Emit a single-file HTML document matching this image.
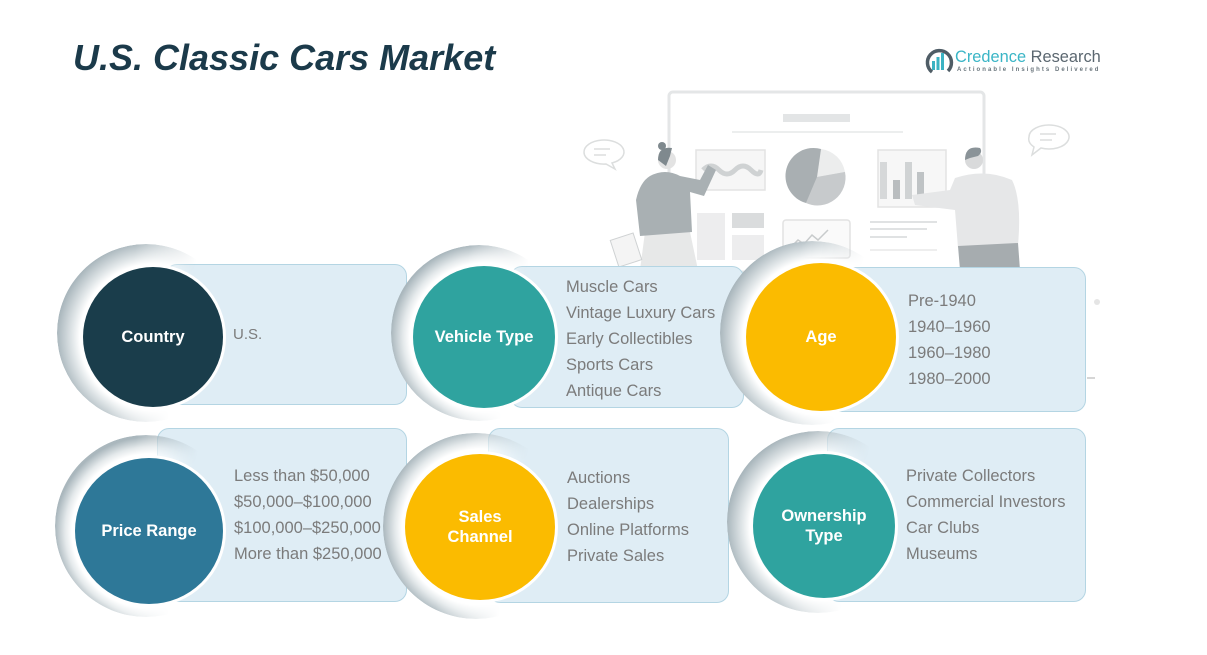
<!DOCTYPE html>
<html><head><meta charset="utf-8"><style>
*{margin:0;padding:0;box-sizing:border-box}
html,body{width:1207px;height:655px;background:#fff;overflow:hidden}
body{position:relative;font-family:"Liberation Sans",sans-serif}
.abs{position:absolute}
.title{left:73px;top:37px;font-size:36px;font-weight:bold;font-style:italic;color:#1b3a4a;white-space:nowrap}
.box{position:absolute;background:#dfedf5;border:1.5px solid #b4d5e3;border-radius:12px}
.cres{position:absolute;border-radius:50%;-webkit-mask-image:linear-gradient(100deg,#000 0%,#000 38%,transparent 68%);mask-image:linear-gradient(100deg,#000 0%,#000 38%,transparent 68%)}
.circ{position:absolute;border-radius:50%;box-shadow:0 0 0 3px #fff;color:#fff;font-weight:bold;font-size:16.5px;display:flex;align-items:center;justify-content:center;text-align:center;line-height:20px}
.txt{position:absolute;color:#7b7b7b;font-size:16.5px;line-height:26px;white-space:nowrap}
</style></head><body>

<svg class="abs" style="left:0;top:0" width="1207" height="655" viewBox="0 0 1207 655">
  <rect x="669" y="92" width="315" height="180" rx="4" fill="none" stroke="#e4e6e7" stroke-width="3"/>
  <rect x="783" y="114" width="67" height="8" fill="#e3e5e6"/>
  <line x1="732" y1="132" x2="903" y2="132" stroke="#e6e8e9" stroke-width="1.5"/>
  <rect x="696" y="150" width="69" height="40" fill="#f6f6f6" stroke="#e3e3e3" stroke-width="1.5"/>
  <path d="M703 170 q8-8 16 0 t16 0 t16 0 t10 0" fill="none" stroke="#cfd2d3" stroke-width="5"/>
  <circle cx="817" cy="177" r="28" fill="#d8dadb"/>
  <path d="M817 177 L821 149 A28 28 0 0 1 845 172 Z" fill="#eceded"/>
  <path d="M817 177 L845 172 A28 28 0 0 1 806 203 Z" fill="#c7cacc"/>
  <path d="M817 177 L806 203 A28 28 0 0 1 821 149 Z" fill="#a9afb2"/>
  <rect x="878" y="150" width="68" height="57" fill="#f7f7f7" stroke="#e3e3e3" stroke-width="1.5"/>
  <rect x="880" y="162" width="7" height="37" fill="#d6d8d9"/>
  <rect x="893" y="180" width="7" height="19" fill="#b9bdbf"/>
  <rect x="905" y="162" width="7" height="37" fill="#d0d3d4"/>
  <rect x="917" y="172" width="7" height="27" fill="#bfc3c5"/>
  <rect x="697" y="213" width="28" height="47" fill="#ededee"/>
  <rect x="732" y="213" width="32" height="15" fill="#dadcdd"/>
  <rect x="732" y="235" width="32" height="25" fill="#ededee"/>
  <rect x="783" y="220" width="67" height="38" rx="3" fill="#fafafa" stroke="#e2e2e2" stroke-width="1.5"/>
  <path d="M790 248 l8-8 l6 4 l8-9 l6 5 l10-10" fill="none" stroke="#c8cbcc" stroke-width="1.5"/>
  <line x1="870" y1="222" x2="937" y2="222" stroke="#e0e2e3" stroke-width="2"/>
  <line x1="870" y1="229" x2="927" y2="229" stroke="#e0e2e3" stroke-width="2"/>
  <line x1="870" y1="237" x2="907" y2="237" stroke="#e0e2e3" stroke-width="2"/>
  <line x1="870" y1="250" x2="937" y2="250" stroke="#eeeeee" stroke-width="2"/>
  <path d="M584 152 a20 12 0 1 1 28 11 l3 6 l-9-5 a20 12 0 0 1 -22 -12z" fill="none" stroke="#dcdede" stroke-width="1.5"/>
  <line x1="594" y1="149" x2="610" y2="149" stroke="#dcdede" stroke-width="1.5"/>
  <line x1="594" y1="155" x2="606" y2="155" stroke="#dcdede" stroke-width="1.5"/>
  <path d="M1029 137 a20 12 0 1 1 12 11 l-9 7 l2-8 a20 12 0 0 1 -5 -10z" fill="none" stroke="#dcdede" stroke-width="1.5"/>
  <line x1="1040" y1="134" x2="1056" y2="134" stroke="#dcdede" stroke-width="1.5"/>
  <line x1="1040" y1="140" x2="1052" y2="140" stroke="#dcdede" stroke-width="1.5"/>
  <path d="M645 232 L690 232 L698 270 L640 270 Z" fill="#e7e8e8"/>
  <path d="M650 176 Q665 168 680 176 L700 180 L708 165 L716 170 L704 196 L690 192 L692 232 L640 236 L636 200 Q640 182 650 176 Z" fill="#a9b0b3"/>
  <circle cx="667" cy="160" r="9" fill="#e3e3e3"/>
  <path d="M658 160 q0-14 14-12 l-2 8 l-4 10 z" fill="#7f898e"/>
  <circle cx="662" cy="146" r="4" fill="#7f898e"/>
  <rect x="614" y="236" width="24" height="28" transform="rotate(-18 626 250)" fill="#f4f4f4" stroke="#cfd2d3"/>
  <path d="M955 178 Q985 168 1012 180 Q1022 200 1018 245 L958 248 L955 210 L915 205 L912 195 L950 190 Z" fill="#e6e7e8"/>
  <path d="M958 246 L1018 243 L1020 270 L960 270 Z" fill="#a6acaf"/>
  <circle cx="974" cy="160" r="9" fill="#d9dadb"/>
  <path d="M965 160 q0-15 15-12 q3 4 -2 8 l-8 2 z" fill="#8a9398"/>
  <circle cx="1097" cy="302" r="3" fill="#e5e5e5"/>
  <line x1="745" y1="378" x2="753" y2="378" stroke="#c9c9c9" stroke-width="1.5"/>
  <line x1="1087" y1="378" x2="1095" y2="378" stroke="#c9c9c9" stroke-width="1.5"/>
</svg>

<div class="title abs">U.S. Classic Cars Market</div>

<svg class="abs" style="left:924px;top:46px" width="30" height="30" viewBox="0 0 30 30">
  <path d="M8 26 A12 12 0 1 1 24 25" fill="none" stroke="#4f5d66" stroke-width="3.5"/>
  <rect x="8" y="15" width="3" height="9" fill="#3bb3c3"/>
  <rect x="12.5" y="11" width="3" height="13" fill="#3bb3c3"/>
  <rect x="17" y="7" width="3" height="17" fill="#3bb3c3"/>
</svg>
<div class="abs" style="left:955px;top:48px;font-size:16.4px;white-space:nowrap"><span style="color:#3ab5c6">Credence</span> <span style="color:#5b6770">Research</span></div>
<div class="abs" style="left:957px;top:67px;font-size:6px;font-weight:bold;color:#6b767d;letter-spacing:2.05px;white-space:nowrap">Actionable Insights Delivered</div>

<!-- Country -->
<div class="box" style="left:165px;top:264px;width:242px;height:141px"></div>
<div class="cres" style="left:57px;top:244px;width:178px;height:178px;background:radial-gradient(circle 120px at 96px 93px,#fff 73px,#e4e9eb 80px,#aab7bd 96px,#aab7bd 120px)"></div>
<div class="circ" style="left:83px;top:267px;width:140px;height:140px;background:#1a3d4b">Country</div>
<div class="txt" style="left:233px;top:322px;font-size:15px">U.S.</div>

<!-- Vehicle Type -->
<div class="box" style="left:510px;top:266px;width:234px;height:142px"></div>
<div class="cres" style="left:391px;top:245px;width:176px;height:176px;background:radial-gradient(circle 120px at 93px 92px,#fff 74px,#e4e9eb 81px,#aab7bd 93px,#aab7bd 120px)"></div>
<div class="circ" style="left:413px;top:266px;width:142px;height:142px;background:#2fa39f">Vehicle Type</div>
<div class="txt" style="left:566px;top:274px">Muscle Cars<br>Vintage Luxury Cars<br>Early Collectibles<br>Sports Cars<br>Antique Cars</div>

<!-- Age -->
<div class="box" style="left:830px;top:267px;width:256px;height:145px"></div>
<div class="cres" style="left:720px;top:241px;width:184px;height:184px;background:radial-gradient(circle 120px at 101px 96px,#fff 78px,#e4e9eb 85px,#aab7bd 101px,#aab7bd 120px)"></div>
<div class="circ" style="left:746px;top:263px;width:150px;height:148px;background:#fbbb00">Age</div>
<div class="txt" style="left:908px;top:288px">Pre-1940<br>1940–1960<br>1960–1980<br>1980–2000</div>

<!-- Price Range -->
<div class="box" style="left:157px;top:428px;width:250px;height:174px"></div>
<div class="cres" style="left:55px;top:435px;width:182px;height:182px;background:radial-gradient(circle 120px at 94px 96px,#fff 77px,#e4e9eb 84px,#aab7bd 94px,#aab7bd 120px)"></div>
<div class="circ" style="left:75px;top:458px;width:148px;height:146px;background:#2e7898">Price Range</div>
<div class="txt" style="left:234px;top:463px">Less than $50,000<br>$50,000–$100,000<br>$100,000–$250,000<br>More than $250,000</div>

<!-- Sales Channel -->
<div class="box" style="left:488px;top:428px;width:241px;height:175px"></div>
<div class="cres" style="left:383px;top:433px;width:186px;height:186px;background:radial-gradient(circle 120px at 97px 94px,#fff 78px,#e4e9eb 85px,#aab7bd 97px,#aab7bd 120px)"></div>
<div class="circ" style="left:405px;top:454px;width:150px;height:146px;background:#fbbb00">Sales<br>Channel</div>
<div class="txt" style="left:567px;top:465px">Auctions<br>Dealerships<br>Online Platforms<br>Private Sales</div>

<!-- Ownership Type -->
<div class="box" style="left:827px;top:428px;width:259px;height:174px"></div>
<div class="cres" style="left:727px;top:431px;width:182px;height:182px;background:radial-gradient(circle 120px at 97px 95px,#fff 74px,#e4e9eb 81px,#aab7bd 97px,#aab7bd 120px)"></div>
<div class="circ" style="left:753px;top:454px;width:142px;height:144px;background:#2fa39f">Ownership<br>Type</div>
<div class="txt" style="left:906px;top:463px">Private Collectors<br>Commercial Investors<br>Car Clubs<br>Museums</div>

</body></html>
